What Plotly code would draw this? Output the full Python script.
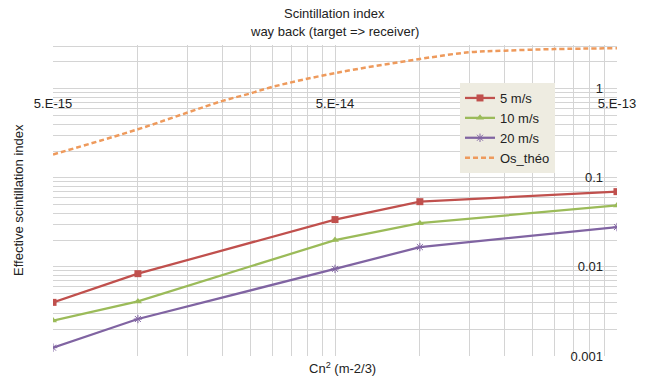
import math
import plotly.graph_objects as go

# ---- data ----
cn2 = [5e-15, 1e-14, 5e-14, 1e-13, 5e-13]
s5 = [0.0040, 0.0084, 0.034, 0.054, 0.070]
s10 = [0.0025, 0.0041, 0.020, 0.031, 0.049]
s20 = [0.00124, 0.0026, 0.0095, 0.0167, 0.028]
theo_x = [5e-15, 1e-14, 1.5e-14, 2e-14, 2.5e-14, 3e-14, 5e-14, 1e-13, 1.5e-13, 2e-13, 3e-13, 5e-13]
theo_y = [0.183, 0.351, 0.541, 0.732, 0.885, 1.05, 1.50, 2.16, 2.57, 2.68, 2.79, 2.85]
x_ticks = [5e-15, 5e-14, 5e-13]
x_ticktext = ["5.E-15", "5.E-14", "5.E-13"]
y_ticks = [0.001, 0.01, 0.1, 1]
y_ticktext = ["0.001", "0.01", "0.1", "1"]

FONT = "Liberation Sans, Arial, sans-serif"
GRID = "#d4d4d4"
FS = 13

fig = go.Figure()
fig.add_trace(go.Scatter(x=cn2, y=s5, name="5 m/s", mode="lines+markers",
                         line=dict(color="#C0504D", width=2.25),
                         marker=dict(symbol="square", size=7, color="#C0504D")))
fig.add_trace(go.Scatter(x=cn2, y=s10, name="10 m/s", mode="lines+markers",
                         line=dict(color="#9BBB59", width=2.25),
                         marker=dict(symbol="triangle-up", size=7, color="#9BBB59")))
fig.add_trace(go.Scatter(x=cn2, y=s20, name="20 m/s", mode="lines+markers",
                         line=dict(color="#8064A2", width=2.25),
                         marker=dict(symbol="asterisk-open", size=7,
                                     line=dict(color="#8064A2", width=1))))
fig.add_trace(go.Scatter(x=theo_x, y=theo_y, name="Os_théo", mode="lines",
                         line=dict(color="#EE9A5C", width=2.5, dash="5px,3px", shape="spline")))

eps = 1e-4
xmin, xmax = math.log10(5e-15) - eps, math.log10(5e-13) + eps
ymin, ymax = -3.0 - eps, math.log10(3.1)
x_minor = [k * b for b in (5e-15, 5e-14) for k in range(2, 10)]
y_minor = [k * 10 ** e for e in (-3, -2, -1, 0) for k in range(2, 10)]

L, R, T, B = 53, 30, 45, 23
W, H = 647, 379
H_plot = H - T - B
W_plot = W - L - R


def py(pix):
    return (H - B - pix) / H_plot


def px(pix):
    return (pix - L) / W_plot


fig.update_layout(
    width=W, height=H,
    margin=dict(l=L, r=R, t=T, b=B),
    paper_bgcolor="white", plot_bgcolor="white",
    font=dict(family=FONT, size=FS, color="#222222"),
    showlegend=True,
    legend=dict(x=px(460), y=py(83), xanchor="left", yanchor="top",
                bgcolor="#EEECE1", borderwidth=0,
                font=dict(size=FS, family=FONT, color="#222222"),
                tracegroupgap=0),
    xaxis=dict(type="log", range=[xmin, xmax],
               tickmode="array", tickvals=x_ticks, ticktext=x_ticktext,
               showgrid=True, gridcolor=GRID, gridwidth=1,
               anchor="free", position=(0 - ymin) / (ymax - ymin), side="bottom",
               ticks="outside", ticklen=3, tickcolor="rgba(0,0,0,0)",
               showline=False, zeroline=False,
               minor=dict(tickmode="array", tickvals=x_minor, showgrid=True,
                          gridcolor=GRID, gridwidth=1)),
    yaxis=dict(type="log", range=[ymin, ymax], side="left",
               anchor="free", position=px(603),
               tickmode="array", tickvals=y_ticks, ticktext=y_ticktext,
               ticks="", showgrid=True, gridcolor=GRID, gridwidth=1,
               showline=False, zeroline=False,
               minor=dict(tickmode="array", tickvals=y_minor, showgrid=True,
                          gridcolor=GRID, gridwidth=1)),
    annotations=[
        dict(text="Scintillation index", x=px(334), y=py(13.5), xref="paper", yref="paper",
             yanchor="middle", showarrow=False, font=dict(size=FS)),
        dict(text="way back (target => receiver)", x=px(334), y=py(32), xref="paper",
             yref="paper", yanchor="middle", showarrow=False, font=dict(size=FS)),
        dict(text="Cn<sup>2</sup> (m-2/3)", x=px(342), y=py(368), xref="paper", yref="paper",
             yanchor="middle", showarrow=False, font=dict(size=FS)),
        dict(text="Effective scintillation index", x=px(18), y=py(200), xref="paper",
             yref="paper", xanchor="center", yanchor="middle", showarrow=False,
             textangle=-90, font=dict(size=FS)),
    ],
)

fig.write_html("out.html")
